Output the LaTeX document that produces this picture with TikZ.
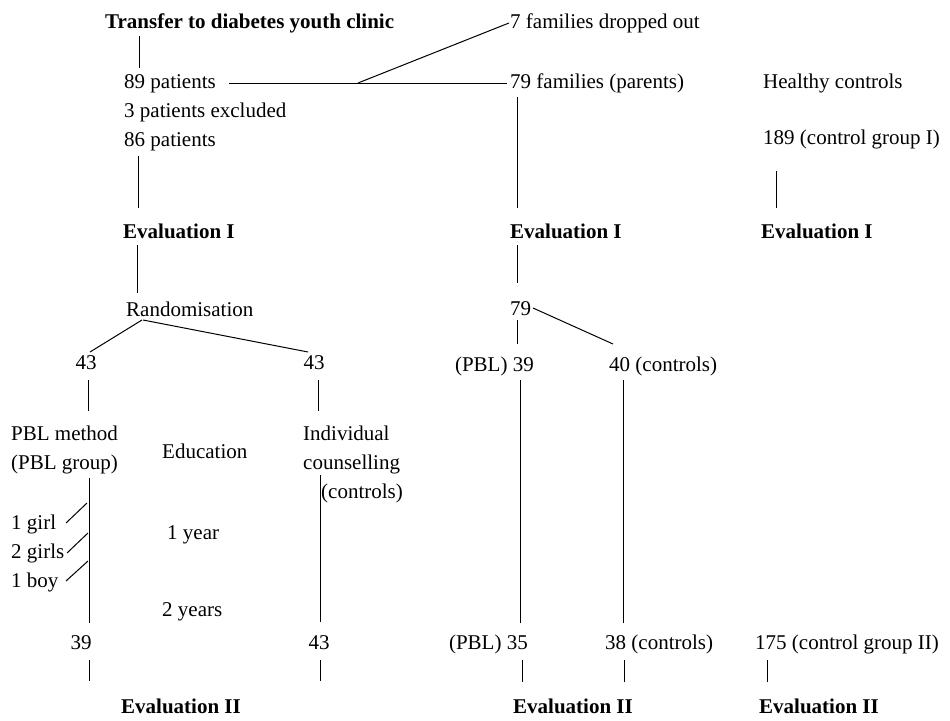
\documentclass[tikz,border=0pt]{standalone}
\usepackage{fontspec}
\setmainfont{Liberation Serif}
\begin{document}
\begin{tikzpicture}[x=1pt,y=-1pt,
  lbl/.style={inner sep=0pt,anchor=mid west,yshift=-4pt,font=\fontsize{21}{25}\selectfont},
  lblc/.style={lbl,anchor=mid},
  lble/.style={lbl,anchor=mid east},
  bold/.style={lbl,font=\fontsize{21}{25}\selectfont\bfseries},
  conn/.style={line width=1pt,black}]
\useasboundingbox (0,0) rectangle (950,720);
% left column
\node[bold] (t1) at (105,22) {Transfer to diabetes youth clinic};
\node[lbl] (p89) at (124,82) {89 patients};
\node[lbl] (p3) at (124,111) {3 patients excluded};
\node[lbl] (p86) at (124,140) {86 patients};
\node[bold] (ev1a) at (123,232) {Evaluation I};
\node[lbl] (rand) at (126,310) {Randomisation};
\node[lblc] (n43a) at (86,363) {43};
\node[lblc] (n43b) at (314,363) {43};
\node[lbl] (pbl1) at (11,434) {PBL method};
\node[lbl] (pbl2) at (11,463) {(PBL group)};
\node[lbl] (ind1) at (303,434) {Individual};
\node[lbl] (ind2) at (303,463) {counselling};
\node[lbl] (ind3) at (321,492) {(controls)};
\node[lbl] (edu) at (162,452) {Education};
\node[lbl] (g1) at (11,523) {1 girl};
\node[lbl] (g2) at (11,552) {2 girls};
\node[lbl] (g3) at (11,581) {1 boy};
\node[lbl] (y1) at (167,533) {1 year};
\node[lbl] (y2) at (162,610) {2 years};
\node[lblc] (n39) at (81,643) {39};
\node[lblc] (n43c) at (319,643) {43};
\node[bold,anchor=mid] (ev2a) at (181,707) {Evaluation II};
% middle and right columns
\node[lbl] (fam7) at (510,22) {7 families dropped out};
\node[lbl] (fam79) at (510,82) {79 families (parents)};
\node[lbl] (healthy) at (763,82) {Healthy controls};
\node[lbl] (c189) at (763,138) {189 (control group I)};
\node[bold] (ev1b) at (510,232) {Evaluation I};
\node[bold] (ev1c) at (761,232) {Evaluation I};
\node[lbl] (n79) at (510,309) {79};
\node[lble] (pbl39) at (534,365) {(PBL) 39};
\node[lbl] (c40) at (609,365) {40 (controls)};
\node[lble] (pbl35) at (528,643) {(PBL) 35};
\node[lbl] (c38) at (605,643) {38 (controls)};
\node[lbl] (c175) at (755,643) {175 (control group II)};
\node[bold] (ev2b) at (513,707) {Evaluation II};
\node[bold] (ev2c) at (759,707) {Evaluation II};
% junction coordinate
\coordinate (split) at (358,83);
% connectors
\draw[conn] (139,36) -- (139,68);
\draw[conn] (138,156) -- (138,208);
\draw[conn] (137,245) -- (137,293);
\draw[conn] (142,320) -- (90,352);
\draw[conn] (143,320) -- (308,352);
\draw[conn] (88,380) -- (88,411);
\draw[conn] (318,380) -- (318,411);
\draw[conn] (89,478) -- (89,623);
\draw[conn] (320,475) -- (320,622);
\draw[conn] (66,523) -- (87,503);
\draw[conn] (67,553) -- (88,533);
\draw[conn] (66,581) -- (88,561);
\draw[conn] (89,660) -- (89,681);
\draw[conn] (320,660) -- (320,681);
\draw[conn] (229,83) -- (507,83);
\draw[conn] (split) -- (509,23);
\draw[conn] (517,97) -- (517,208);
\draw[conn] (776,171) -- (776,208);
\draw[conn] (517,245) -- (517,283);
\draw[conn] (517,320) -- (517,344);
\draw[conn] (533,308) -- (613,344);
\draw[conn] (520,380) -- (520,623);
\draw[conn] (623,380) -- (623,623);
\draw[conn] (522,660) -- (522,682);
\draw[conn] (624,660) -- (624,682);
\draw[conn] (767,660) -- (767,682);
\end{tikzpicture}
\end{document}
